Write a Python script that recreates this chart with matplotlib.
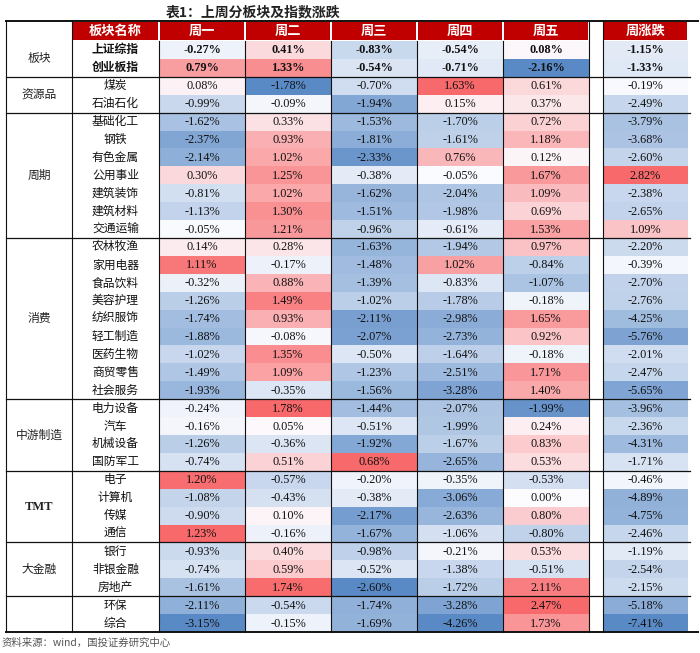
import matplotlib
matplotlib.use('Agg')
import matplotlib.pyplot as plt
from matplotlib.patches import Rectangle
import numpy as np

plt.rcParams['font.family'] = ['Noto Sans CJK SC', 'DejaVu Sans']

title = "表1：上周分板块及指数涨跌"
source = "资料来源：wind，国投证券研究中心"
col_headers = ["板块名称", "周一", "周二", "周三", "周四", "周五", "周涨跌"]

group_names = ["板块", "资源品", "周期", "消费", "中游制造", "TMT", "大金融", ""]
group_members = [
    ["上证综指", "创业板指"],
    ["煤炭", "石油石化"],
    ["基础化工", "钢铁", "有色金属", "公用事业", "建筑装饰", "建筑材料", "交通运输"],
    ["农林牧渔", "家用电器", "食品饮料", "美容护理", "纺织服饰", "轻工制造", "医药生物", "商贸零售", "社会服务"],
    ["电力设备", "汽车", "机械设备", "国防军工"],
    ["电子", "计算机", "传媒", "通信"],
    ["银行", "非银金融", "房地产"],
    ["环保", "综合"],
]

mon = [-0.27, 0.79, 0.08, -0.99, -1.62, -2.37, -2.14, 0.30, -0.81, -1.13, -0.05,
       0.14, 1.11, -0.32, -1.26, -1.74, -1.88, -1.02, -1.49, -1.93,
       -0.24, -0.16, -1.26, -0.74, 1.20, -1.08, -0.90, 1.23, -0.93, -0.74, -1.61, -2.11, -3.15]
tue = [0.41, 1.33, -1.78, -0.09, 0.33, 0.93, 1.02, 1.25, 1.02, 1.30, 1.21,
       0.28, -0.17, 0.88, 1.49, 0.93, -0.08, 1.35, 1.09, -0.35,
       1.78, 0.05, -0.36, 0.51, -0.57, -0.43, 0.10, -0.16, 0.40, 0.59, 1.74, -0.54, -0.15]
wed = [-0.83, -0.54, -0.70, -1.94, -1.53, -1.81, -2.33, -0.38, -1.62, -1.51, -0.96,
       -1.63, -1.48, -1.39, -1.02, -2.11, -2.07, -0.50, -1.23, -1.56,
       -1.44, -0.51, -1.92, 0.68, -0.20, -0.38, -2.17, -1.67, -0.98, -0.52, -2.60, -1.74, -1.69]
thu = [-0.54, -0.71, 1.63, 0.15, -1.70, -1.61, 0.76, -0.05, -2.04, -1.98, -0.61,
       -1.94, 1.02, -0.83, -1.78, -2.98, -2.73, -1.64, -2.51, -3.28,
       -2.07, -1.99, -1.67, -2.65, -0.35, -3.06, -2.63, -1.06, -0.21, -1.38, -1.72, -3.28, -4.26]
fri = [0.08, -2.16, 0.61, 0.37, 0.72, 1.18, 0.12, 1.67, 1.09, 0.69, 1.53,
       0.97, -0.84, -1.07, -0.18, 1.65, 0.92, -0.18, 1.71, 1.40,
       -1.99, 0.24, 0.83, 0.53, -0.53, 0.00, 0.80, -0.80, 0.53, -0.51, 2.11, 2.47, 1.73]
week = [-1.15, -1.33, -0.19, -2.49, -3.79, -3.68, -2.60, 2.82, -2.38, -2.65, 1.09,
        -2.20, -0.39, -2.70, -2.76, -4.25, -5.76, -2.01, -2.47, -5.65,
        -3.96, -2.36, -4.31, -1.71, -0.46, -4.89, -4.75, -2.46, -1.19, -2.54, -2.15, -5.18, -7.41]

series = [mon, tue, wed, thu, fri, week]

# ---------------- layout ----------------
W, H = 700, 653
fig = plt.figure(figsize=(7, 6.53), dpi=100)
ax = fig.add_axes([0, 0, 1, 1])
ax.set_xlim(0, W)
ax.set_ylim(H, 0)
ax.axis('off')

x_edges = [6, 72, 159, 245, 331, 417, 503, 589, 603, 688]
value_cols = [2, 3, 4, 5, 6, 8]
top, head_bot, bot = 21, 41, 632
n_rows = sum(len(g) for g in group_members)
rh = (bot - head_bot) / n_rows

white = np.array([252, 252, 255]) / 255
red = np.array([248, 105, 107]) / 255
blue = np.array([90, 138, 198]) / 255


def cell_color(v, vmin, vmax):
    if v >= 0:
        t = v / vmax if vmax > 0 else 0
        return white + t * (red - white)
    t = v / vmin if vmin < 0 else 0
    return white + t * (blue - white)


serif = 'Liberation Serif'

# header
ax.text(253, 12, title, ha='center', va='center', fontsize=10, fontweight='bold', color='#222222')
head_cols = [1, 2, 3, 4, 5, 6, 8]
for c, lab in zip(head_cols, col_headers):
    x0, x1 = x_edges[c], x_edges[c + 1]
    ax.add_patch(Rectangle((x0 + 1, top + 1), x1 - x0 - 2, head_bot - top - 2,
                           facecolor='#C00000', edgecolor='none', zorder=1))
    ax.text((x0 + x1) / 2, (top + head_bot) / 2, lab, ha='center', va='center',
            color='white', fontsize=9.5, fontweight='bold', zorder=3)

# cells
for s, c in zip(series, value_cols):
    vmin, vmax = min(s), max(s)
    x0, x1 = x_edges[c], x_edges[c + 1]
    for i, v in enumerate(s):
        y0 = head_bot + i * rh
        ax.add_patch(Rectangle((x0, y0), x1 - x0, rh, facecolor=cell_color(v, vmin, vmax),
                               edgecolor='none', zorder=1))
        bold = i < 2
        ax.text((x0 + x1) / 2, y0 + rh / 2 + 0.5, f"{v:.2f}%", ha='center', va='center',
                fontsize=8.8, family=serif, fontweight='bold' if bold else 'normal',
                color='#111111', zorder=3)

# names and groups
row = 0
for gi, (gname, members) in enumerate(zip(group_names, group_members)):
    g0 = head_bot + row * rh
    g1 = g0 + len(members) * rh
    if gname:
        if gname.isascii():
            ax.text((x_edges[0] + x_edges[1]) / 2, (g0 + g1) / 2, gname, ha='center', va='center',
                    fontsize=9, family=serif, fontweight='bold', color='#222222')
        else:
            ax.text((x_edges[0] + x_edges[1]) / 2, (g0 + g1) / 2, gname, ha='center', va='center',
                    fontsize=8.5, color='#222222')
    for j, m in enumerate(members):
        y = head_bot + (row + j) * rh + rh / 2
        ax.text((x_edges[1] + x_edges[2]) / 2, y, m, ha='center', va='center', fontsize=8.5,
                fontweight='bold' if gi == 0 else 'normal', color='#111111', zorder=3)
    row += len(members)
    if row < n_rows:
        ax.plot([x_edges[0], 690], [g1, g1], color='#111111', lw=0.9, zorder=4)

# outer lines
ax.plot([x_edges[0], 698], [top, top], color='#111111', lw=1.4, zorder=4)
ax.plot([x_edges[0], 698], [bot, bot], color='#111111', lw=1.4, zorder=4)

for k, x in enumerate(x_edges[:-1]):
    y_start = top if k in (0, 1, 7, 8) else head_bot
    ax.plot([x, x], [y_start, bot], color='#111111', lw=0.8, zorder=4)

ax.text(2, 643, source, ha='left', va='center', fontsize=7.5, style='italic', color='#555555')

fig.savefig('out.png', dpi=100)
